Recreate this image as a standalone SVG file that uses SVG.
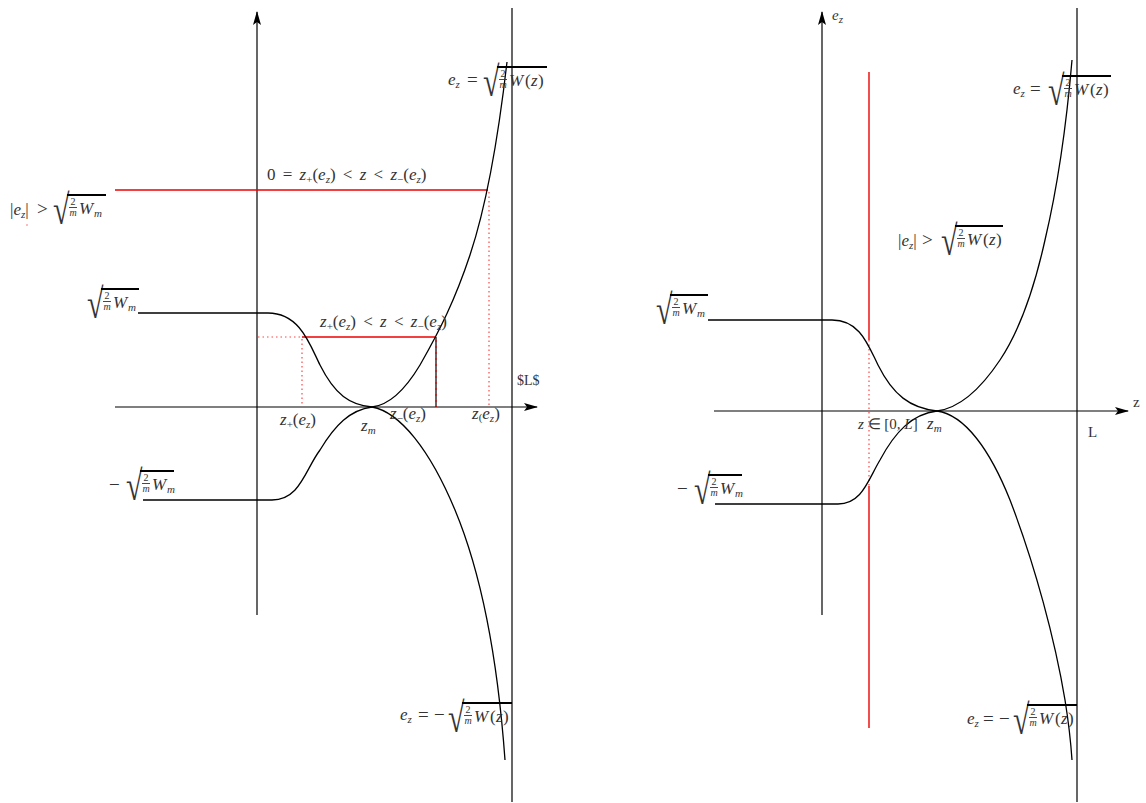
<svg xmlns="http://www.w3.org/2000/svg" width="1146" height="803" viewBox="0 0 1146 803">
<style>
.t{font-family:"Liberation Serif",serif;font-size:17px;fill:#333}
.i{font-style:italic}
.sb{font-family:"Liberation Serif",serif;font-size:11px;fill:#333}
.fr{font-family:"Liberation Serif",serif;font-size:10px;fill:#333;text-anchor:middle}
.rad{font-family:"Liberation Serif",serif;font-size:30px;fill:#333}
.op{font-family:"Liberation Serif",serif;font-size:19px;fill:#333}
.vin{stroke:#000;stroke-width:1.8}
.fb{stroke:#333;stroke-width:0.9}
.ax{stroke:#000;stroke-width:1.2;fill:none}
.cv{stroke:#000;stroke-width:1.3;fill:none}
.red{stroke:#e00;stroke-width:1.4;fill:none}
.rdot{stroke:#f44;stroke-width:1.2;fill:none;stroke-dasharray:1.5 3}
.ws{word-spacing:3px}
</style>
<defs>
<marker id="ah" viewBox="0 0 14 8" refX="13" refY="4" markerWidth="14" markerHeight="8" orient="auto" markerUnits="userSpaceOnUse"><path d="M0,0 L14,4 L0,8 L3,4 z" fill="#000"/></marker>
</defs>
<rect width="1146" height="803" fill="#fff"/>

<!-- LEFT PANEL -->
<g id="left-axes">
<line class="ax" x1="257" y1="615" x2="257" y2="12" marker-end="url(#ah)"/>
<line class="ax" x1="115" y1="407" x2="537" y2="407" marker-end="url(#ah)"/>
<line class="ax" x1="512" y1="8" x2="512" y2="802"/>
</g>
<g id="left-guides">
<line class="red" x1="115" y1="190" x2="488" y2="190"/>
<line class="rdot" x1="489" y1="192" x2="489" y2="405"/>
<line class="rdot" x1="258" y1="337" x2="302" y2="337"/>
<line class="red" x1="302" y1="337" x2="436" y2="337"/>
<line class="rdot" x1="302" y1="339" x2="302" y2="406"/>
<line class="ax" x1="436" y1="337" x2="436" y2="407"/>
<line x1="436" y1="340" x2="436" y2="407" stroke="#e00" stroke-width="1.2" stroke-dasharray="2 4"/>
<circle cx="27" cy="225" r="0.7" fill="#f44"/>
</g>
<g id="left-curves">
<path class="cv" d="M138,313 L268,313 C300,313 310,345 320,365 C335,395 350,405 372,407"/>
<path class="cv" d="M372,407 C390,405 405,390 420,365 C440,330 455,300 470,255 C485,210 498,140 507,62"/>
<path class="cv" d="M143,500 L272,500 C300,500 305,470 320,450 C335,425 350,410 372,407"/>
<path class="cv" d="M372,407 C400,412 430,450 455,510 C480,570 497,650 505,760"/>
</g>

<g id="lbl-left-abs">
<text class="t" x="10" y="215">|<tspan class="i">e</tspan><tspan class="sb i" dy="3">z</tspan><tspan dy="-3">|</tspan></text>
<text class="op" x="37" y="215">&gt;</text>
<g transform="translate(67,195)">
<text class="rad" transform="translate(-14,29) scale(1,1.4)">√</text>
<line class="vin" x1="0" y1="0" x2="39" y2="0"/>
<text class="fr" x="6" y="10">2</text><line class="fb" x1="2" y1="12.5" x2="10" y2="12.5"/><text class="fr i" x="6" y="21">m</text>
<text class="t i" x="12" y="19">W</text><text class="sb i" x="27" y="22">m</text>
</g>
</g>
<g id="lbl-left-wm" transform="translate(101,289)">
<text class="rad" transform="translate(-14,29) scale(1,1.4)">√</text>
<line class="vin" x1="0" y1="0" x2="38" y2="0"/>
<text class="fr" x="6" y="10">2</text><line class="fb" x1="2" y1="12.5" x2="10" y2="12.5"/><text class="fr i" x="6" y="21">m</text>
<text class="t i" x="12" y="19">W</text><text class="sb i" x="27" y="22">m</text>
</g>
<g id="lbl-left-mwm">
<text class="op" x="109" y="491">−</text>
<g transform="translate(140,471)">
<text class="rad" transform="translate(-14,29) scale(1,1.4)">√</text>
<line class="vin" x1="0" y1="0" x2="34" y2="0"/>
<text class="fr" x="6" y="10">2</text><line class="fb" x1="2" y1="12.5" x2="10" y2="12.5"/><text class="fr i" x="6" y="21">m</text>
<text class="t i" x="12" y="19">W</text><text class="sb i" x="27" y="22">m</text>
</g>
</g>
<g id="lbl-left-top">
<text class="t" x="448" y="85"><tspan class="i">e</tspan><tspan class="sb i" dy="3">z</tspan></text>
<text class="op" x="467" y="86">=</text>
<g transform="translate(497,67)">
<text class="rad" transform="translate(-14,29) scale(1,1.4)">√</text>
<line class="vin" x1="0" y1="0" x2="50" y2="0"/>
<text class="fr" x="6" y="10">2</text><line class="fb" x1="2" y1="12.5" x2="10" y2="12.5"/><text class="fr i" x="6" y="21">m</text>
<text class="t" x="12" y="19"><tspan class="i">W</tspan><tspan x="28">(</tspan><tspan class="i" x="34">z</tspan><tspan x="41">)</tspan></text>
</g>
</g>
<g id="lbl-left-bot">
<text class="t" x="400" y="720"><tspan class="i">e</tspan><tspan class="sb i" dy="3">z</tspan></text>
<text class="op" x="418" y="721">=</text>
<text class="op" x="434" y="721">−</text>
<g transform="translate(462,703)">
<text class="rad" transform="translate(-14,29) scale(1,1.4)">√</text>
<line class="vin" x1="0" y1="0" x2="50" y2="0"/>
<text class="fr" x="6" y="10">2</text><line class="fb" x1="2" y1="12.5" x2="10" y2="12.5"/><text class="fr i" x="6" y="21">m</text>
<text class="t" x="12" y="19"><tspan class="i">W</tspan><tspan x="28">(</tspan><tspan class="i" x="34">z</tspan><tspan x="41">)</tspan></text>
</g>
</g>
<g id="lbl-left-range1">
<text class="t ws" x="267" y="180">0 = <tspan class="i">z</tspan><tspan class="sb" dy="3">+</tspan><tspan dy="-3">(</tspan><tspan class="i">e</tspan><tspan class="sb i" dy="3">z</tspan><tspan dy="-3">) &lt; </tspan><tspan class="i">z</tspan> &lt; <tspan class="i">z</tspan><tspan class="sb" dy="3">−</tspan><tspan dy="-3">(</tspan><tspan class="i">e</tspan><tspan class="sb i" dy="3">z</tspan><tspan dy="-3">)</tspan></text>
</g>
<g id="lbl-left-range2">
<text class="t ws" x="320" y="327"><tspan class="i">z</tspan><tspan class="sb" dy="3">+</tspan><tspan dy="-3">(</tspan><tspan class="i">e</tspan><tspan class="sb i" dy="3">z</tspan><tspan dy="-3">) &lt; </tspan><tspan class="i">z</tspan> &lt; <tspan class="i">z</tspan><tspan class="sb" dy="3">−</tspan><tspan dy="-3">(</tspan><tspan class="i">e</tspan><tspan class="sb i" dy="3">z</tspan><tspan dy="-3">)</tspan></text>
</g>
<g id="lbl-left-axis">
<text class="t" x="280" y="425"><tspan class="i">z</tspan><tspan class="sb" dy="3">+</tspan><tspan dy="-3">(</tspan><tspan class="i">e</tspan><tspan class="sb i" dy="3">z</tspan><tspan dy="-3">)</tspan></text>
<text class="t" x="361" y="431"><tspan class="i">z</tspan><tspan class="sb i" dy="3">m</tspan></text>
<text class="t" x="390" y="419"><tspan class="i">z</tspan><tspan class="sb" dy="3">−</tspan><tspan dy="-3">(</tspan><tspan class="i">e</tspan><tspan class="sb i" dy="3">z</tspan><tspan dy="-3">)</tspan></text>
<text class="t" x="472" y="419"><tspan class="i">z</tspan><tspan class="sb" dy="2">(</tspan><tspan class="i" dy="-2">e</tspan><tspan class="sb i" dy="3">z</tspan><tspan dy="-3">)</tspan></text>
<text class="t" x="517" y="385" style="font-size:14px">$L$</text>
</g>

<!-- RIGHT PANEL -->
<g id="right-axes">
<line class="ax" x1="822" y1="615" x2="822" y2="12" marker-end="url(#ah)"/>
<line class="ax" x1="714" y1="411" x2="1128" y2="411" marker-end="url(#ah)"/>
<line class="ax" x1="1077" y1="8" x2="1077" y2="802"/>
</g>
<g id="right-guides">
<line class="red" x1="869" y1="72" x2="869" y2="340"/>
<line class="rdot" x1="869" y1="340" x2="869" y2="486"/>
<line class="red" x1="869" y1="486" x2="869" y2="728"/>
</g>
<g id="right-curves">
<path class="cv" d="M708,320 L832,320 C860,320 868,345 878,365 C893,395 910,408 937,411"/>
<path class="cv" d="M937,411 C960,408 980,390 1000,360 C1020,330 1035,285 1045,240 C1058,185 1066,130 1072,60"/>
<path class="cv" d="M715,504 L838,504 C862,504 868,480 880,460 C895,432 912,414 937,411"/>
<path class="cv" d="M937,411 C965,415 990,450 1010,500 C1035,565 1055,640 1065,700 C1069,725 1071,745 1072,760"/>
</g>
<g id="lbl-right-ez">
<text class="t" x="832" y="20" style="font-size:15px"><tspan class="i">e</tspan><tspan class="sb i" dy="3">z</tspan></text>
</g>
<g id="lbl-right-wm" transform="translate(670,295)">
<text class="rad" transform="translate(-14,29) scale(1,1.4)">√</text>
<line class="vin" x1="0" y1="0" x2="38" y2="0"/>
<text class="fr" x="6" y="10">2</text><line class="fb" x1="2" y1="12.5" x2="10" y2="12.5"/><text class="fr i" x="6" y="21">m</text>
<text class="t i" x="12" y="19">W</text><text class="sb i" x="27" y="22">m</text>
</g>
<g id="lbl-right-mwm">
<text class="op" x="677" y="495">−</text>
<g transform="translate(708,475)">
<text class="rad" transform="translate(-14,29) scale(1,1.4)">√</text>
<line class="vin" x1="0" y1="0" x2="34" y2="0"/>
<text class="fr" x="6" y="10">2</text><line class="fb" x1="2" y1="12.5" x2="10" y2="12.5"/><text class="fr i" x="6" y="21">m</text>
<text class="t i" x="12" y="19">W</text><text class="sb i" x="27" y="22">m</text>
</g>
</g>
<g id="lbl-right-abs">
<text class="t" x="898" y="246">|<tspan class="i">e</tspan><tspan class="sb i" dy="3">z</tspan><tspan dy="-3">|</tspan></text>
<text class="op" x="922" y="246">&gt;</text>
<g transform="translate(955,226)">
<text class="rad" transform="translate(-14,29) scale(1,1.4)">√</text>
<line class="vin" x1="0" y1="0" x2="48" y2="0"/>
<text class="fr" x="6" y="10">2</text><line class="fb" x1="2" y1="12.5" x2="10" y2="12.5"/><text class="fr i" x="6" y="21">m</text>
<text class="t" x="12" y="19"><tspan class="i">W</tspan><tspan x="28">(</tspan><tspan class="i" x="34">z</tspan><tspan x="41">)</tspan></text>
</g>
</g>
<g id="lbl-right-top">
<text class="t" x="1013" y="94"><tspan class="i">e</tspan><tspan class="sb i" dy="3">z</tspan></text>
<text class="op" x="1030" y="95">=</text>
<g transform="translate(1062,76)">
<text class="rad" transform="translate(-14,29) scale(1,1.4)">√</text>
<line class="vin" x1="0" y1="0" x2="49" y2="0"/>
<text class="fr" x="6" y="10">2</text><line class="fb" x1="2" y1="12.5" x2="10" y2="12.5"/><text class="fr i" x="6" y="21">m</text>
<text class="t" x="12" y="19"><tspan class="i">W</tspan><tspan x="28">(</tspan><tspan class="i" x="34">z</tspan><tspan x="41">)</tspan></text>
</g>
</g>
<g id="lbl-right-bot">
<text class="t" x="967" y="724"><tspan class="i">e</tspan><tspan class="sb i" dy="3">z</tspan></text>
<text class="op" x="983" y="725">=</text>
<text class="op" x="999" y="725">−</text>
<g transform="translate(1027,705)">
<text class="rad" transform="translate(-14,29) scale(1,1.4)">√</text>
<line class="vin" x1="0" y1="0" x2="50" y2="0"/>
<text class="fr" x="6" y="10">2</text><line class="fb" x1="2" y1="12.5" x2="10" y2="12.5"/><text class="fr i" x="6" y="21">m</text>
<text class="t" x="12" y="19"><tspan class="i">W</tspan><tspan x="28">(</tspan><tspan class="i" x="34">z</tspan><tspan x="41">)</tspan></text>
</g>
</g>
<g id="lbl-right-axis">
<text class="t" x="858" y="429" style="font-size:15px"><tspan class="i">z</tspan> ∈ [0<tspan class="i">, L</tspan>]</text>
<text class="t" x="927" y="429"><tspan class="i">z</tspan><tspan class="sb i" dy="3">m</tspan></text>
<text class="t" x="1088" y="437" style="font-size:15px">L</text>
<text class="t" x="1133" y="407" style="font-size:15px">z</text>
</g>
</svg>
